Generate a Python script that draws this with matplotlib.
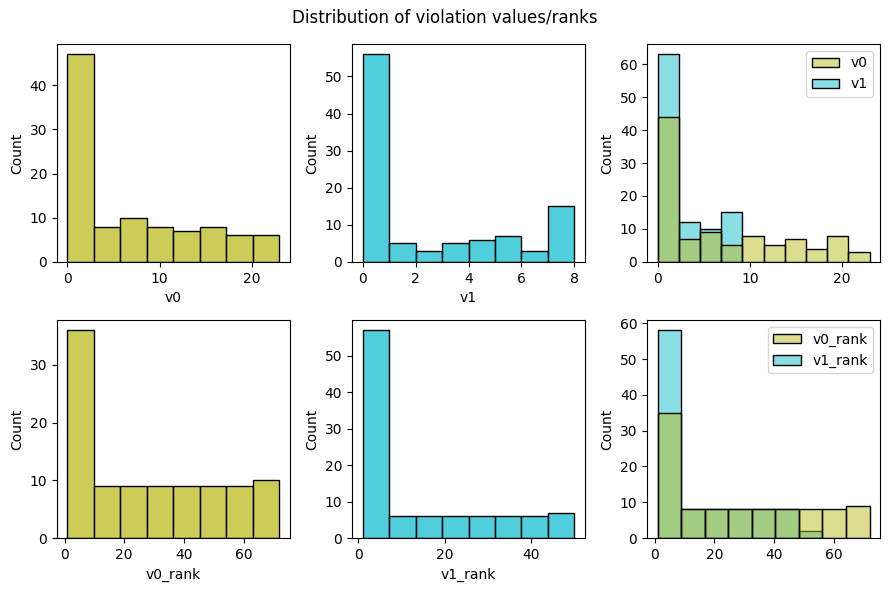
import numpy as np
import matplotlib
matplotlib.use("Agg")
import matplotlib.pyplot as plt
from matplotlib.colors import to_rgba

# Histogram counts (100 samples each)
v0_counts = [47, 8, 10, 8, 7, 8, 6, 6]
v0_range = (0, 23)
v1_counts = [56, 5, 3, 5, 6, 7, 3, 15]
v1_range = (0, 8)

# combined panel: shared bins over the joint range
v01_range = (0, 23)
v0_layer = [44, 7, 9, 5, 8, 5, 7, 4, 8, 3]
v1_layer = [63, 12, 10, 15, 0, 0, 0, 0, 0, 0]

v0_rank_counts = [36, 9, 9, 9, 9, 9, 9, 10]
v0_rank_range = (1, 72)
v1_rank_counts = [57, 6, 6, 6, 6, 6, 6, 7]
v1_rank_range = (1, 50)

rank_range = (1, 72)
v0_rank_layer = [35, 8, 8, 8, 8, 8, 8, 8, 9]
v1_rank_layer = [58, 8, 8, 8, 8, 8, 2, 0, 0]

OLIVE = "#bcbd22"
CYAN = "#17becf"


def draw_hist(ax, counts, rng, color, alpha, label=None):
    """Draw histogram bars from counts over equal-width bins in rng"""
    edges = np.linspace(rng[0], rng[1], len(counts) + 1)
    widths = np.diff(edges)
    keep = np.array(counts) > 0
    bars = ax.bar(
        edges[:-1][keep],
        np.array(counts)[keep],
        width=widths[keep],
        align="edge",
        facecolor=to_rgba(color, alpha),
        edgecolor="black",
        linewidth=1,
        label=label,
    )
    return bars


fig, axes = plt.subplots(2, 3, figsize=(8.89, 5.92), dpi=100)
fig.subplots_adjust(left=0.064, right=0.990, top=0.926, bottom=0.091,
                    wspace=0.266, hspace=0.266)

# Top row: violation values
ax = axes[0, 0]
draw_hist(ax, v0_counts, v0_range, OLIVE, 0.75)
ax.set_xlabel("v0")
ax.set_ylabel("Count")

ax = axes[0, 1]
draw_hist(ax, v1_counts, v1_range, CYAN, 0.75)
ax.set_xlabel("v1")
ax.set_ylabel("Count")

ax = axes[0, 2]
# second level drawn first so the first one sits on top
h1 = draw_hist(ax, v1_layer, v01_range, CYAN, 0.5, label="v1")
h0 = draw_hist(ax, v0_layer, v01_range, OLIVE, 0.5, label="v0")
ax.set_ylabel("Count")
ax.legend(handles=[h0, h1], labels=["v0", "v1"], loc="upper right")

# Bottom row: ranks
ax = axes[1, 0]
draw_hist(ax, v0_rank_counts, v0_rank_range, OLIVE, 0.75)
ax.set_xlabel("v0_rank")
ax.set_ylabel("Count")

ax = axes[1, 1]
draw_hist(ax, v1_rank_counts, v1_rank_range, CYAN, 0.75)
ax.set_xlabel("v1_rank")
ax.set_ylabel("Count")

ax = axes[1, 2]
h1 = draw_hist(ax, v1_rank_layer, rank_range, CYAN, 0.5, label="v1_rank")
h0 = draw_hist(ax, v0_rank_layer, rank_range, OLIVE, 0.5, label="v0_rank")
ax.set_ylabel("Count")
ax.legend(handles=[h0, h1], labels=["v0_rank", "v1_rank"], loc="upper right")

fig.suptitle("Distribution of violation values/ranks", y=0.971, va="center")
fig.savefig("out.png", dpi=100)
